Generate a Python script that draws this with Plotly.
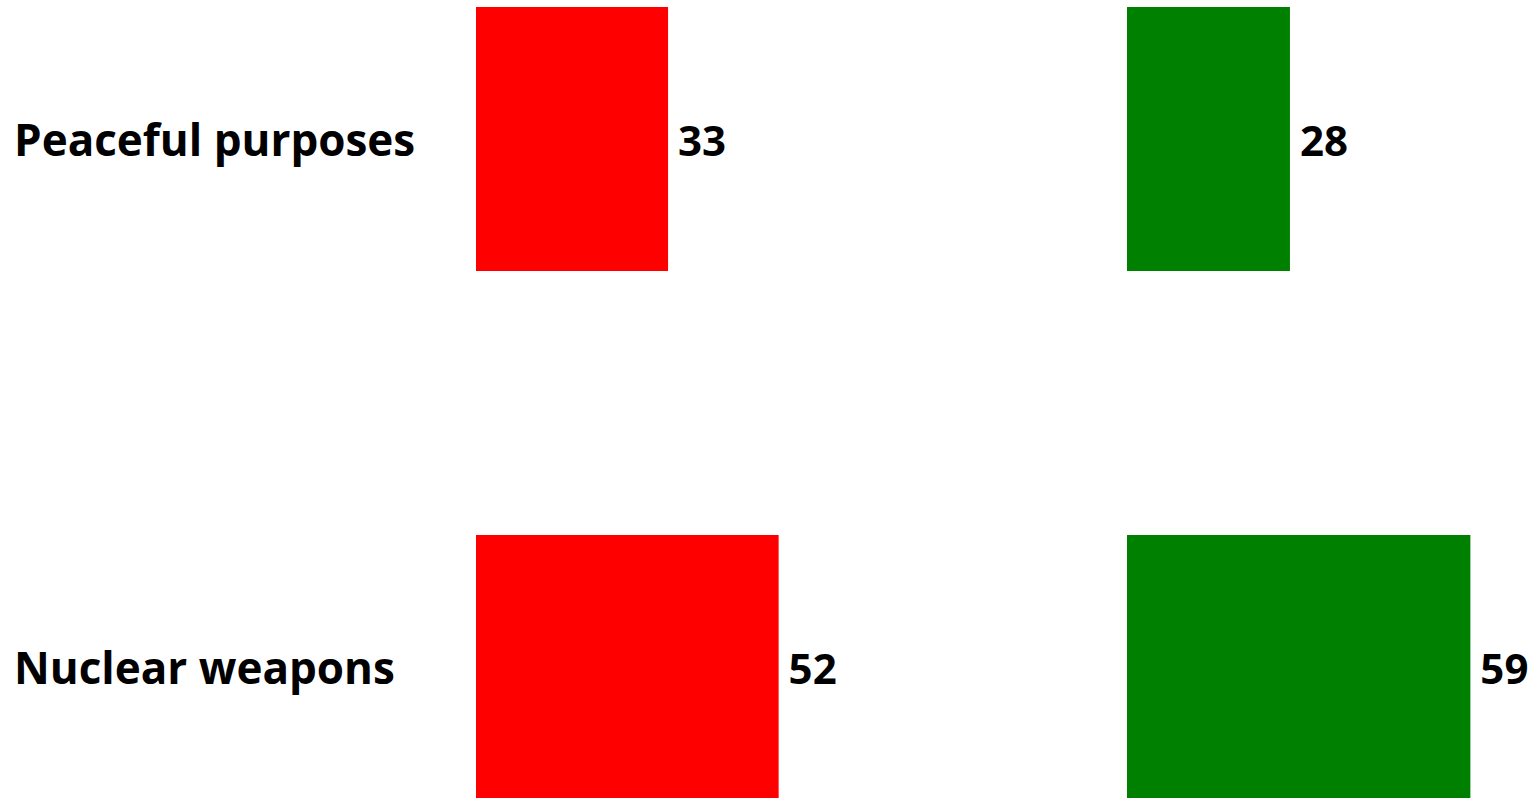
import plotly.graph_objects as go

categories = ["Peaceful purposes", "Nuclear weapons"]
left_values = [33, 52]
right_values = [28, 59]
left_color = "#ff0000"
right_color = "#008000"

W, H = 1532, 798
FONT = "Open Sans"
pos = [0, 1]

fig = go.Figure()
for vals, col, xa in [(left_values, left_color, "x"), (right_values, right_color, "x2")]:
    fig.add_trace(go.Bar(
        y=pos, x=vals, orientation="h", width=0.5,
        marker=dict(color=col, line=dict(width=0)),
        text=["\u2009" + str(v) for v in vals], textposition="outside",
        textfont=dict(family=FONT, size=42, color="black", weight="bold"),
        constraintext="none",
        cliponaxis=False, xaxis=xa, yaxis="y", showlegend=False,
    ))

px_per_unit = 5.82
rng = 69
span = rng * px_per_unit
l0 = 476
r0 = 1127

# y: category centres at page y 139 and 667 -> 528 px per unit
unit = 528.0
c0 = 139
y_top = -c0 / unit
y_bot = y_top + H / unit

fig.update_layout(
    width=W, height=H,
    margin=dict(l=0, r=0, t=0, b=0),
    plot_bgcolor="white", paper_bgcolor="white",
    xaxis=dict(domain=[l0 / W, min(1, (l0 + span) / W)], range=[0, rng], visible=False),
    xaxis2=dict(domain=[r0 / W, min(1, (r0 + span) / W)], range=[0, rng], visible=False),
    yaxis=dict(range=[y_bot, y_top], visible=False),
    uniformtext=dict(mode=False),
)

for p, c in zip(pos, categories):
    fig.add_annotation(
        x=12 / W, xref="paper", xanchor="left", y=p, yref="y", yanchor="middle",
        text=f"<b>{c}</b>", showarrow=False,
        font=dict(family=FONT, size=44, color="black"),
    )

fig.write_html(
    "out.html",
    config={"displayModeBar": False},
    post_script="document.body.style.margin='0px';document.body.style.overflow='hidden';",
)
